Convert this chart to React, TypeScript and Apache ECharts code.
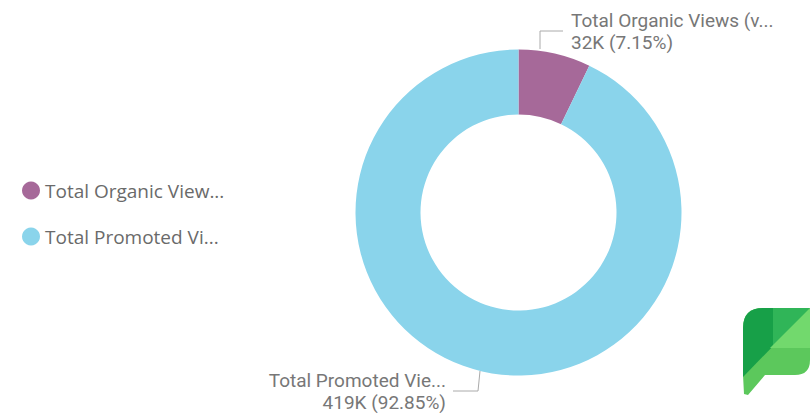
import React, { useEffect, useRef } from "react";
import * as echarts from "echarts";

const categories = ["Total Organic Views (views)", "Total Promoted Views (views)"];
const legendLabels = ["Total Organic View...", "Total Promoted Vi..."];
const sliceLabels = ["Total Organic Views (v...", "Total Promoted Vie..."];
const values = [32300, 419450];
const colors = ["#A66999", "#8AD4EB"];

echarts.graphic.registerShape(
  "logoBase",
  echarts.graphic.extendPath(
    "M0,20 Q0,0 20,0 L67,0 L67,52 Q67,67 52,67 L22,67 L5,87 L1,86 L0,67 Z",
    {}
  )
);
echarts.graphic.registerShape(
  "logoDark",
  echarts.graphic.extendPath("M0,20 Q0,0 20,0 L67,0 L0,69 Z", {})
);

export default function App() {
  const ref = useRef<HTMLDivElement>(null);
  useEffect(() => {
    document.body.style.margin = "0";
    const chart = echarts.init(ref.current!, null, { renderer: "svg" });
    const labelFont = "Roboto, 'DejaVu Sans', sans-serif";
    chart.setOption({
      animation: false,
      backgroundColor: "#ffffff",
      color: colors,
      legend: {
        orient: "vertical",
        left: 17,
        top: 176,
        itemWidth: 18,
        itemHeight: 18,
        itemGap: 27,
        icon: "circle",
        data: categories,
        formatter: (name: string) => legendLabels[categories.indexOf(name)],
        textStyle: {
          color: "#6a6a6a",
          fontSize: 19,
          fontFamily: "'Open Sans', sans-serif",
        },
        selectedMode: false,
      },
      series: [
        {
          type: "pie",
          center: [518.5, 212.5],
          radius: [98, 163],
          startAngle: 90,
          clockwise: true,
          silent: true,
          data: categories.map((c, i) => ({ name: c, value: values[i] })),
          label: {
            show: true,
            color: "#777777",
            fontSize: 19,
            lineHeight: 22,
            fontFamily: labelFont,
            formatter: (p: any) =>
              `${sliceLabels[p.dataIndex]}\n${Math.round(p.value / 1000)}K (${p.percent.toFixed(2)}%)`,
          },
          labelLine: {
            show: true,
            lineStyle: { color: "#aaaaaa", width: 1 },
          },
          labelLayout: (p: any) => {
            if (p.dataIndex === 0) {
              return {
                x: 571,
                y: 31,
                align: "left",
                verticalAlign: "middle",
                labelLinePoints: [
                  [540, 49],
                  [540, 31],
                  [563, 31],
                ],
              };
            }
            return {
              x: 446,
              y: 391,
              align: "right",
              verticalAlign: "middle",
              labelLinePoints: [
                [480, 371],
                [478, 391],
                [453, 391],
              ],
            };
          },
        },
      ],
      graphic: [
        {
          type: "group",
          x: 743,
          y: 308,
          children: [
            { type: "logoBase", style: { fill: "#5CC85C" } },
            { type: "logoDark", style: { fill: "#17A048" } },
            {
              type: "polygon",
              shape: { points: [[30, 0], [67, 0], [30, 38]] },
              style: { fill: "#30B558" },
            },
            {
              type: "polygon",
              shape: { points: [[67, 0], [67, 40], [27, 40]] },
              style: { fill: "#72D96D" },
            },
          ],
        },
      ],
    });
    return () => chart.dispose();
  }, []);
  return (
    <div
      ref={ref}
      style={{ position: "absolute", left: 0, top: 0, width: 810, height: 413 }}
    />
  );
}
